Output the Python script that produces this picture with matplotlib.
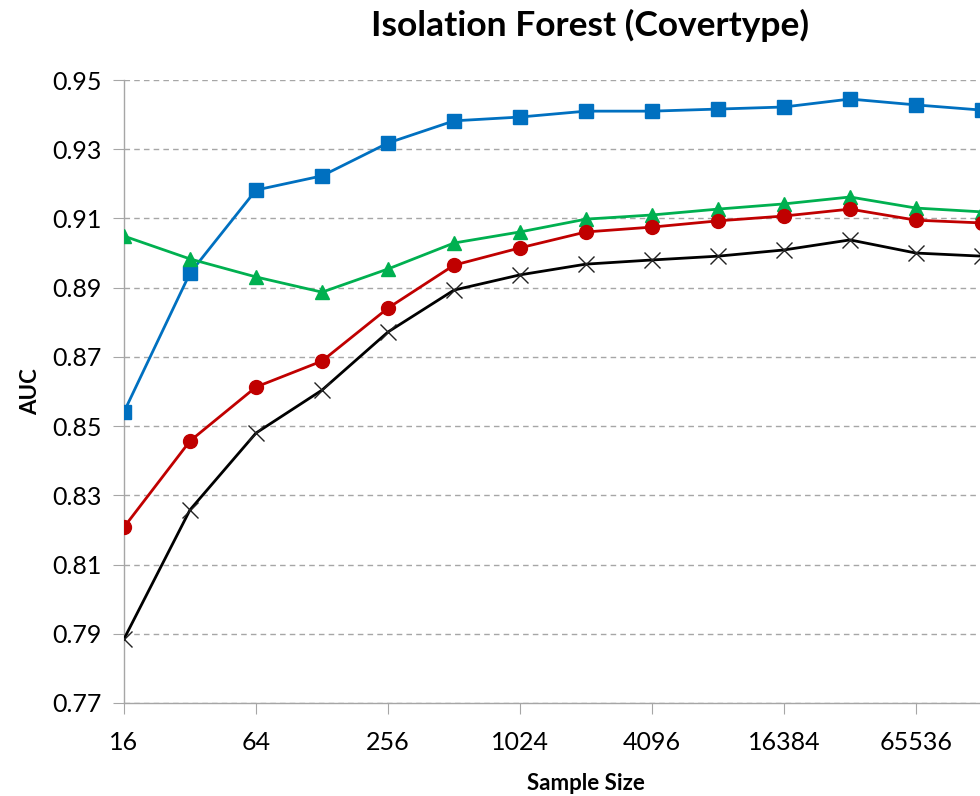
import matplotlib
matplotlib.use("Agg")
import matplotlib.pyplot as plt

sample_sizes = [16, 32, 64, 128, 256, 512, 1024, 2048, 4096, 8192, 16384, 32768, 65536, 131072]
blue = [0.8541, 0.8942, 0.9182, 0.9223, 0.9318, 0.9382, 0.9393, 0.9410, 0.9410, 0.9416, 0.9422, 0.9445, 0.9428, 0.9413]
green = [0.9049, 0.8983, 0.8931, 0.8887, 0.8954, 0.9029, 0.9061, 0.9098, 0.9110, 0.9127, 0.9142, 0.9162, 0.9130, 0.9119]
red = [0.8208, 0.8457, 0.8613, 0.8688, 0.8841, 0.8965, 0.9015, 0.9061, 0.9075, 0.9093, 0.9107, 0.9127, 0.9095, 0.9087]
black = [0.7885, 0.8258, 0.8480, 0.8604, 0.8772, 0.8893, 0.8937, 0.8968, 0.8980, 0.8991, 0.9009, 0.9038, 0.9000, 0.8991]
xticks = [16, 64, 256, 1024, 4096, 16384, 65536]
yticks = [0.77, 0.79, 0.81, 0.83, 0.85, 0.87, 0.89, 0.91, 0.93, 0.95]

plt.rcParams['font.family'] = ['Lato', 'DejaVu Sans']

W, H = 980, 796
fig = plt.figure(figsize=(W/100, H/100), dpi=100)
left, right, top, bottom = 124, 1048, 80, 703
ax = fig.add_axes([left/W, (H-bottom)/H, (right-left)/W, (bottom-top)/H])
ax.set_xscale('log', base=2)
ax.set_xlim(16, 2**18)
ax.set_ylim(0.77, 0.95)

ax.plot(sample_sizes, blue, color='#0070C0', lw=2.0, marker='s', ms=10, zorder=3)
ax.plot(sample_sizes, green, color='#00B050', lw=2.0, marker='^', ms=10.5, zorder=3)
ax.plot(sample_sizes, red, color='#C00000', lw=2.0, marker='o', ms=10, zorder=3)
ax.plot(sample_sizes, black, color='black', lw=2.0, marker='x', ms=11, mew=1.0, mec='#222222', zorder=3)

ax.set_xticks(xticks)
ax.set_xticklabels([str(v) for v in xticks])
ax.xaxis.set_minor_locator(matplotlib.ticker.NullLocator())
ax.set_yticks(yticks)
ax.set_yticklabels([f"{v:.2f}" for v in yticks])
ax.yaxis.grid(True, linestyle=(0, (4, 3)), color='#A6A6A6', lw=1.0)
ax.tick_params(axis='y', length=8, color='#A6A6A6', labelsize=18, pad=8)
ax.tick_params(axis='x', length=8, color='#A6A6A6', labelsize=18, pad=12)
for s in ['top', 'right']:
    ax.spines[s].set_visible(False)
for s in ['left', 'bottom']:
    ax.spines[s].set_color('#A6A6A6')
    ax.spines[s].set_linewidth(1.0)
ax.set_axisbelow(True)

ax.set_ylabel('AUC', fontsize=16, fontweight='bold', labelpad=8)
ax.set_xlabel('Sample Size', fontsize=16, fontweight='bold', labelpad=14)
fig.text(590/W, 1 - 25/H, 'Isolation Forest (Covertype)', ha='center', va='center', fontsize=25.5, fontweight='bold')

fig.savefig('out.png', dpi=100)
